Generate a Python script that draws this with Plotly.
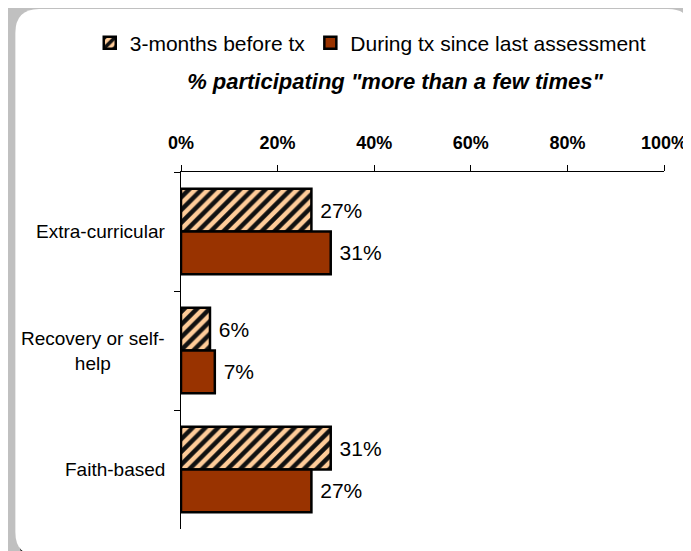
import plotly.graph_objects as go

# ---- data ----
categories = ["Extra-curricular", "Recovery or self-help", "Faith-based"]
category_labels = ["Extra-curricular", "Recovery or self-<br>help", "Faith-based"]
before_tx = [27, 6, 31]
during_tx = [31, 7, 27]
series_names = ["3-months before tx", "During tx since last assessment"]
x_ticks = [0, 20, 40, 60, 80, 100]
x_tick_labels = ["0%", "20%", "40%", "60%", "80%", "100%"]

W, H = 691, 551
L, R, T, B = 173, 31, 164, 30
PW, PH = W - L - R, H - T - B

FONT = "Arial, Liberation Sans, sans-serif"


def px(x):
    return (x - L) / PW


def py(y):
    return (H - B - y) / PH


def rounded_rect(x0, y0, x1, y1, r):
    pts = [
        f"M {px(x0 + r)} {py(y0)}",
        f"L {px(x1 - r)} {py(y0)}",
        f"Q {px(x1)} {py(y0)} {px(x1)} {py(y0 + r)}",
        f"L {px(x1)} {py(y1 - r)}",
        f"Q {px(x1)} {py(y1)} {px(x1 - r)} {py(y1)}",
        f"L {px(x0 + r)} {py(y1)}",
        f"Q {px(x0)} {py(y1)} {px(x0)} {py(y1 - r)}",
        f"L {px(x0)} {py(y0 + r)}",
        f"Q {px(x0)} {py(y0)} {px(x0 + r)} {py(y0)}",
        "Z",
    ]
    return " ".join(pts)


NBSP = "\u00a0"

fig = go.Figure()
fig.add_trace(go.Bar(
    y=categories, x=before_tx, name=series_names[0], orientation="h",
    marker=dict(color="#FFCC99", line=dict(color="black", width=2.5),
                pattern=dict(shape="/", fgcolor="#111111", bgcolor="#FFCC99",
                             size=9, solidity=0.5, fillmode="overlay", fgopacity=1)),
    text=[f"{NBSP}{v}%" for v in before_tx], textposition="outside",
    textfont=dict(size=21, color="black", family=FONT), cliponaxis=False,
))
fig.add_trace(go.Bar(
    y=categories, x=during_tx, name=series_names[1], orientation="h",
    marker=dict(color="#993300", line=dict(color="black", width=2.5)),
    text=[f"{NBSP}{v}%" for v in during_tx], textposition="outside",
    textfont=dict(size=21, color="black", family=FONT), cliponaxis=False,
))

shapes = [
    dict(type="path", xref="paper", yref="paper", layer="below",
         path=rounded_rect(9, 4, 694, 554, 24), fillcolor="black", line=dict(width=0)),
    dict(type="path", xref="paper", yref="paper", layer="below",
         path=rounded_rect(6, 1, 688, 548, 24), fillcolor="white", line=dict(width=0)),
]

annotations = [
    dict(text=lab, x=0, xref="paper", xshift=-14, xanchor="right",
         y=cat, yref="y", yanchor="middle", align="center", showarrow=False,
         font=dict(size=19, color="black", family=FONT))
    for cat, lab in zip(categories, category_labels)
]

fig.update_layout(
    width=W, height=H,
    margin=dict(l=L, r=R, t=T, b=B),
    paper_bgcolor="#C0C0C0", plot_bgcolor="rgba(0,0,0,0)",
    font=dict(family=FONT, color="black"),
    barmode="group", bargap=0.28, bargroupgap=0,
    showlegend=True,
    legend=dict(orientation="h", x=px(81), xanchor="left",
                y=py(35), yanchor="middle",
                font=dict(size=21, family=FONT), itemwidth=30,
                bgcolor="rgba(0,0,0,0)", tracegroupgap=0),
    title=dict(text='<b><i>% participating "more than a few times"</i></b>',
               xref="container", x=387 / W, xanchor="center",
               yref="container", y=1 - 73 / H, yanchor="middle",
               font=dict(size=22, family=FONT, color="black")),
    shapes=shapes,
    annotations=annotations,
)
fig.update_xaxes(side="top", range=[0, 100], tickvals=x_ticks, ticktext=x_tick_labels,
                 ticks="outside", ticklen=6, tickcolor="black", tickwidth=1,
                 ticklabelstandoff=9,
                 showline=True, linecolor="black", linewidth=1,
                 showgrid=False, zeroline=False,
                 tickfont=dict(size=18, family=FONT, color="black", weight="bold"))
fig.update_yaxes(autorange="reversed", showticklabels=False,
                 ticks="outside", ticklen=6, tickcolor="black", tickson="boundaries",
                 showline=True, linecolor="black", linewidth=1,
                 showgrid=False, zeroline=False)

fig.write_html("out.html")
